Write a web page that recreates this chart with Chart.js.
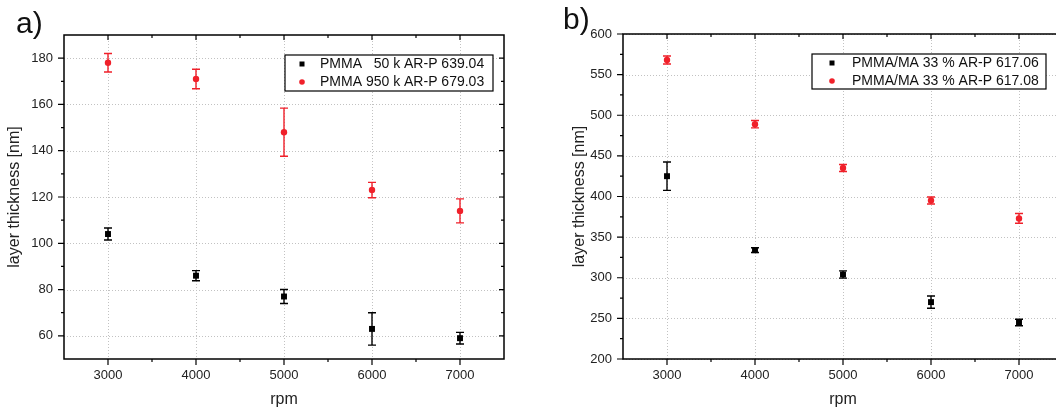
<!DOCTYPE html>
<html>
<head>
<meta charset="utf-8">
<script src="https://cdn.jsdelivr.net/npm/chart.js@4.4.1/dist/chart.umd.min.js"></script>
<style>
  html, body { margin: 0; padding: 0; background: #fff; overflow: hidden; width: 1056px; height: 409px; }
  #pa { position: absolute; left: 0; top: 0; }
  #pb { position: absolute; left: 530px; top: 0; }
</style>
</head>
<body>
<canvas id="pa" width="530" height="409"></canvas>
<canvas id="pb" width="560" height="409"></canvas>
<script>
// rpm values (same for every series)
const rpm = [3000, 4000, 5000, 6000, 7000];

// panel a
const pmma50k = [104, 86, 77, 63, 59];
const pmma50kErr = [2.6, 2.2, 3, 7, 2.5];
const pmma950k = [178, 171, 148, 123, 114];
const pmma950kErr = [4, 4.2, 10.4, 3.3, 5.2];

// panel b
const pmmaMa06 = [425, 334, 304, 270, 245];
const pmmaMa06Err = [17.5, 3, 4.5, 7.5, 4];
const pmmaMa08 = [568, 489, 435, 395, 373];
const pmmaMa08Err = [5, 4.5, 4.3, 4.3, 6];

// tick labels
const xTicks = [3000, 4000, 5000, 6000, 7000];
const yTicksA = [60, 80, 100, 120, 140, 160, 180];
const yTicksB = [200, 250, 300, 350, 400, 450, 500, 550, 600];

const FONT = '"Liberation Sans", Arial, sans-serif';
const RED = '#f0202a';

const pts = (vals) => vals.map((v, i) => ({x: rpm[i], y: v}));

// grid, error bars, box frame with ticks, legend and panel letter
const frame = {
  id: 'frame',
  beforeDatasetsDraw(chart, args, o) {
    const {ctx, chartArea: a, scales: {x, y}} = chart;
    ctx.save();
    ctx.strokeStyle = '#c2c2c2';
    ctx.lineWidth = 1;
    ctx.setLineDash([1, 2]);
    ctx.beginPath();
    x.ticks.forEach(t => {
      const px = Math.round(x.getPixelForValue(t.value)) + 0.5;
      ctx.moveTo(px, a.top); ctx.lineTo(px, a.bottom);
    });
    y.ticks.forEach(t => {
      const py = Math.round(y.getPixelForValue(t.value)) + 0.5;
      ctx.moveTo(a.left, py); ctx.lineTo(a.right, py);
    });
    ctx.stroke();
    ctx.setLineDash([]);

    // error bars
    chart.data.datasets.forEach(ds => {
      ctx.strokeStyle = ds.borderColor;
      ctx.lineWidth = 1.4;
      ctx.beginPath();
      ds.data.forEach((p, j) => {
        const px = x.getPixelForValue(p.x);
        const t = y.getPixelForValue(p.y + ds.errors[j]);
        const b = y.getPixelForValue(p.y - ds.errors[j]);
        ctx.moveTo(px, t); ctx.lineTo(px, b);
        ctx.moveTo(px - 4, t); ctx.lineTo(px + 4, t);
        ctx.moveTo(px - 4, b); ctx.lineTo(px + 4, b);
      });
      ctx.stroke();
    });
    ctx.restore();
  },
  afterDatasetsDraw(chart, args, o) {
    const {ctx, chartArea: a, scales: {x, y}} = chart;
    ctx.save();
    ctx.strokeStyle = '#000';
    ctx.lineWidth = 1.5;
    ctx.strokeRect(a.left, a.top, a.right - a.left, a.bottom - a.top);

    ctx.lineWidth = 1.2;
    ctx.beginPath();
    // major ticks: out on left/bottom, in on top/right
    x.ticks.forEach(t => {
      const px = x.getPixelForValue(t.value);
      ctx.moveTo(px, a.bottom); ctx.lineTo(px, a.bottom + 6);
      ctx.moveTo(px, a.top); ctx.lineTo(px, a.top + 5);
    });
    y.ticks.forEach(t => {
      const py = y.getPixelForValue(t.value);
      ctx.moveTo(a.left, py); ctx.lineTo(a.left - 6, py);
      ctx.moveTo(a.right, py); ctx.lineTo(a.right - 5, py);
    });
    // minor ticks
    for (let v = x.min + o.xMinor; v < x.max; v += o.xMinor) {
      if (xTicks.includes(v)) continue;
      const px = x.getPixelForValue(v);
      ctx.moveTo(px, a.bottom); ctx.lineTo(px, a.bottom + 3);
      ctx.moveTo(px, a.top); ctx.lineTo(px, a.top + 3);
    }
    for (let v = y.min + o.yMinor; v < y.max; v += o.yMinor) {
      if (y.ticks.some(t => t.value === v)) continue;
      const py = y.getPixelForValue(v);
      ctx.moveTo(a.left, py); ctx.lineTo(a.left - 3, py);
      ctx.moveTo(a.right, py); ctx.lineTo(a.right - 3, py);
    }
    ctx.stroke();

    // legend
    const L = o.legend;
    ctx.fillStyle = '#fff';
    ctx.fillRect(L.x, L.y, L.w, L.h);
    ctx.lineWidth = 1.2;
    ctx.strokeRect(L.x, L.y, L.w, L.h);
    ctx.font = '14px ' + FONT;
    ctx.textBaseline = 'middle';
    chart.data.datasets.forEach((ds, i) => {
      const cy = L.y + L.row0 + i * L.rowH;
      ctx.fillStyle = ds.backgroundColor;
      if (ds.pointStyle === 'rect') {
        ctx.fillRect(L.mx - 2.5, cy - 2.5, 5, 5);
      } else {
        ctx.beginPath(); ctx.arc(L.mx, cy, 2.8, 0, Math.PI * 2); ctx.fill();
      }
      ctx.fillStyle = '#111';
      ctx.fillText(ds.label, L.tx, cy);
    });

    // panel letter
    ctx.font = '30px ' + FONT;
    ctx.textBaseline = 'alphabetic';
    ctx.fillStyle = '#111';
    ctx.fillText(o.label, o.labelX, o.labelY);
    ctx.restore();
  }
};

function makeChart(id, sets, yMin, yMax, yTicks, yMinor, pad, yWidth, extra) {
  return new Chart(document.getElementById(id), {
    type: 'scatter',
    data: {datasets: sets},
    options: {
      responsive: false,
      animation: false,
      layout: {padding: pad},
      plugins: {
        legend: {display: false},
        tooltip: {enabled: false},
        frame: Object.assign({xMinor: 500, yMinor: yMinor}, extra)
      },
      scales: {
        x: {
          type: 'linear', min: 2500, max: 7500,
          afterBuildTicks: s => { s.ticks = xTicks.map(v => ({value: v})); },
          afterFit: s => { s.height = 50; },
          grid: {display: false, drawTicks: false},
          border: {display: false},
          ticks: {padding: 9, color: '#222', font: {family: FONT, size: 13}, callback: v => v},
          title: {display: true, text: 'rpm', color: '#222', padding: {top: 0, bottom: 0},
                  font: {family: FONT, size: 16}}
        },
        y: {
          type: 'linear', min: yMin, max: yMax,
          afterBuildTicks: s => { s.ticks = yTicks.map(v => ({value: v})); },
          afterFit: s => { s.width = yWidth; },
          grid: {display: false, drawTicks: false},
          border: {display: false},
          ticks: {padding: 11, color: '#222', font: {family: FONT, size: 13}, callback: v => v},
          title: {display: true, text: 'layer thickness [nm]', color: '#222', padding: {top: 5, bottom: 0},
                  font: {family: FONT, size: 16}}
        }
      }
    },
    plugins: [frame]
  });
}

makeChart('pa', [
  {label: 'PMMA   50 k AR-P 639.04', data: pts(pmma50k), errors: pmma50kErr,
   pointStyle: 'rect', pointRadius: 4.2, backgroundColor: '#000', borderColor: '#000', borderWidth: 0},
  {label: 'PMMA 950 k AR-P 679.03', data: pts(pmma950k), errors: pmma950kErr,
   pointStyle: 'circle', pointRadius: 3.2, backgroundColor: RED, borderColor: RED, borderWidth: 0}
], 50, 190, yTicksA, 10, {top: 35, right: 26, left: 0, bottom: 0}, 64,
  {label: 'a)', labelX: 16, labelY: 33,
   legend: {x: 285, y: 55, w: 208, h: 36, row0: 9, rowH: 18, mx: 302, tx: 320}});

makeChart('pb', [
  {label: 'PMMA/MA 33 % AR-P 617.06', data: pts(pmmaMa06), errors: pmmaMa06Err,
   pointStyle: 'rect', pointRadius: 4.2, backgroundColor: '#000', borderColor: '#000', borderWidth: 0},
  {label: 'PMMA/MA 33 % AR-P 617.08', data: pts(pmmaMa08), errors: pmmaMa08Err,
   pointStyle: 'circle', pointRadius: 3.2, backgroundColor: RED, borderColor: RED, borderWidth: 0}
], 200, 600, yTicksB, 25, {top: 34, right: 27, left: 35, bottom: 0}, 58,
  {label: 'b)', labelX: 33, labelY: 29,
   legend: {x: 282, y: 54, w: 234, h: 35, row0: 9, rowH: 18, mx: 302, tx: 322}});
</script>
</body>
</html>
